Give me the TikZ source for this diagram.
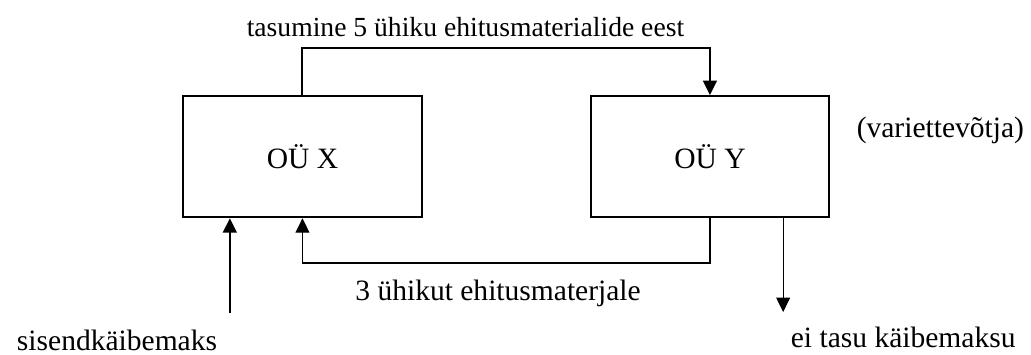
\documentclass[tikz,border=0pt]{standalone}
\usepackage{fontspec}
\setmainfont{Liberation Serif}
\usetikzlibrary{positioning, arrows.meta}

\begin{document}
\begin{tikzpicture}[
    every node/.style={font=\fontsize{14}{16}\selectfont},
    firm/.style={draw, line width=0.95pt, minimum width=3.98cm, minimum height=2.02cm, inner sep=0pt},
    note/.style={inner sep=1pt},
    flow/.style={draw, line width=0.95pt},
    flowArr/.style={-{Triangle[length=2.4mm, width=2.3mm]}, draw, line width=0.95pt},
    thinArr/.style={-{Triangle[length=2.4mm, width=2.3mm]}, draw, line width=0.6pt},
]
\useasboundingbox (0,0) rectangle (17.18,-5.9);
% kaks ettevõtet
\node[firm] (oux) at ( 5.04, -2.61) {OÜ X};
\node[firm] (ouy) at (11.83, -2.61) {OÜ Y};
\node[note] (vote) at (15.67, -2.17) {(variettevõtja)};
% makse X -> Y
\draw[flowArr] (oux.north) -- ++(0,0.79) -| node[pos=0.2, above=3.5pt, note, font=\fontsize{13.1}{15}\selectfont] (pay) {tasumine 5 ühiku ehitusmaterialide eest} (ouy.north);
% kaup Y -> X
\coordinate (fb) at (5.04, -4.38);
\draw[flow] (ouy.south) |- node[pos=0.76, below=6.5pt, note] (goods) {3 ühikut ehitusmaterjale} (fb);
\draw[thinArr] (fb) -- (oux.south);
% käibemaks
\node[note] (input) at (1.95, -5.67) {sisendkäibemaks};
\node[note] (notax) at (15.05, -5.63) {ei tasu käibemaksu};
\coordinate (inStart) at (3.83, -5.22);
\coordinate (outEnd) at (13.05, -5.2);
\draw[flowArr] (inStart) -- (inStart |- oux.south);
\draw[thinArr] (outEnd |- ouy.south) -- (outEnd);
\end{tikzpicture}
\end{document}
